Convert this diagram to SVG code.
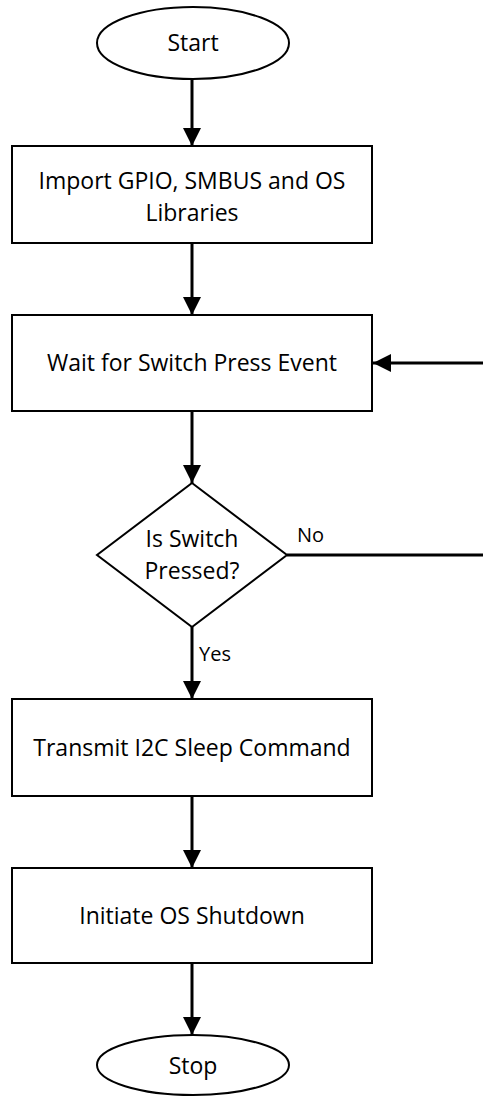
<svg xmlns="http://www.w3.org/2000/svg" width="483" height="1097" viewBox="0 0 483 1097">
  <style>
    .shape { fill: #ffffff; stroke: #000000; stroke-width: 2; }
    .label { font-family: "Open Sans", "Noto Sans", sans-serif; font-size: 23px; fill: #000000; text-anchor: middle; }
    .edge-label { font-family: "Open Sans", "Noto Sans", sans-serif; font-size: 20px; fill: #000000; }
    .wire { fill: none; stroke: #000000; stroke-width: 3; }
  </style>
  <defs>
    <marker id="arrow" markerUnits="userSpaceOnUse" markerWidth="20" markerHeight="20" viewBox="0 0 20 20" refX="18" refY="10" orient="auto">
      <path d="M0,1 L18,10 L0,19 Z" fill="#000000"/>
    </marker>
  </defs>

  <rect width="483" height="1097" fill="#ffffff"/>

  <!-- connectors -->
  <g id="connectors">
    <line class="wire" x1="192" y1="80" x2="192" y2="146" marker-end="url(#arrow)"/>
    <line class="wire" x1="192" y1="243" x2="192" y2="315" marker-end="url(#arrow)"/>
    <line class="wire" x1="192" y1="411" x2="192" y2="483" marker-end="url(#arrow)"/>
    <line class="wire" x1="192" y1="627" x2="192" y2="699" marker-end="url(#arrow)"/>
    <line class="wire" x1="192" y1="796" x2="192" y2="868" marker-end="url(#arrow)"/>
    <line class="wire" x1="192" y1="963" x2="192" y2="1035" marker-end="url(#arrow)"/>
    <!-- "No" branch loops back along the right edge -->
    <polyline class="wire" points="287,555 490,555 490,363"/>
    <line class="wire" x1="490" y1="363" x2="373" y2="363" marker-end="url(#arrow)"/>
    <text class="edge-label" x="297" y="542">No</text>
    <text class="edge-label" x="199" y="661">Yes</text>
  </g>

  <g id="start">
    <ellipse class="shape" cx="193" cy="43" rx="96" ry="36"/>
    <text class="label" x="193" y="51">Start</text>
  </g>

  <g id="import-libraries">
    <rect class="shape" x="12" y="146" width="360" height="97"/>
    <text class="label" x="192" y="189">Import GPIO, SMBUS and OS</text>
    <text class="label" x="192" y="221">Libraries</text>
  </g>

  <g id="wait-switch">
    <rect class="shape" x="12" y="315" width="360" height="96"/>
    <text class="label" x="192" y="371">Wait for Switch Press Event</text>
  </g>

  <g id="switch-pressed">
    <polygon class="shape" points="192,483 287,555 192,627 97,555"/>
    <text class="label" x="192" y="547">Is Switch</text>
    <text class="label" x="192" y="579">Pressed?</text>
  </g>

  <g id="transmit-sleep">
    <rect class="shape" x="12" y="699" width="360" height="97"/>
    <text class="label" x="192" y="756">Transmit I2C Sleep Command</text>
  </g>

  <g id="os-shutdown">
    <rect class="shape" x="12" y="868" width="360" height="95"/>
    <text class="label" x="192" y="924">Initiate OS Shutdown</text>
  </g>

  <g id="stop">
    <ellipse class="shape" cx="193" cy="1065" rx="96" ry="30"/>
    <text class="label" x="193" y="1074">Stop</text>
  </g>
</svg>
